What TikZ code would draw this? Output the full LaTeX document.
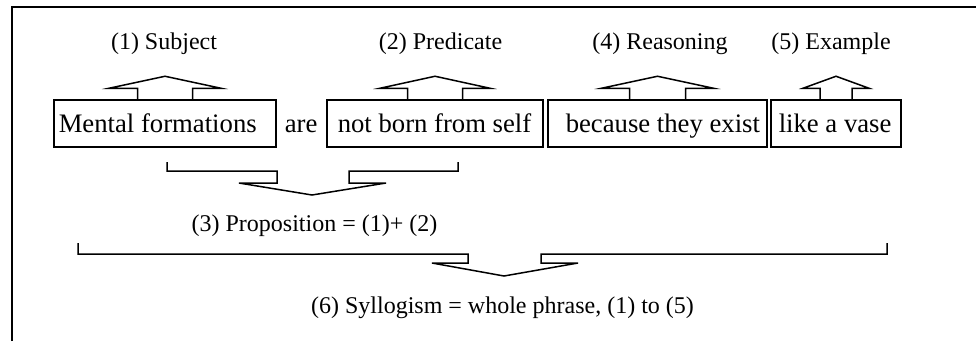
\documentclass[tikz,border=0pt]{standalone}
\usepackage{fontspec}
\setmainfont{Liberation Serif}
\begin{document}
\begin{tikzpicture}[x=1pt,y=-1pt,line width=1.5pt,line join=miter,
  box/.style={draw,line width=1.5pt,minimum height=47pt,inner sep=0pt},
  btext/.style={anchor=base west,inner sep=0pt,font=\fontsize{26.7}{30}\selectfont},
  lbl/.style={anchor=base,inner sep=0pt,font=\fontsize{24}{28}\selectfont},
  pics/uparrow/.style 2 args={code={
    \draw (-#1,0) -- (-#1,-11) -- (-#2,-11) -- (0,-23) -- (#2,-11) -- (#1,-11) -- (#1,0);}}]
\useasboundingbox (0,0) rectangle (976,341);
% frame
\draw[line width=1.7pt] (11.7,341) -- (11.7,7.3) -- (976,7.3);
% boxes
\node[box,minimum width=222pt] (b1) at (165,123.5) {};
\node[box,minimum width=216pt] (b2) at (435,123.5) {};
\node[box,minimum width=219pt] (b3) at (657.5,123.5) {};
\node[box,minimum width=130pt] (b4) at (836,123.5) {};
% box texts
\node[btext] (t1) at (58,132) {Mental formations};
\node[btext] (are) at (284,132) {are};
\node[btext] (t2) at (337,132) {not born from self};
\node[btext] (t3) at (565,132) {because they exist};
\node[btext] (t4) at (778,132) {like a vase};
% labels
\node[lbl] (l1) at (164,49) {(1) Subject};
\node[lbl] (l2) at (440.5,49) {(2) Predicate};
\node[lbl] (l4) at (660,49) {(4) Reasoning};
\node[lbl] (l5) at (831,49) {(5) Example};
\node[lbl] (l3) at (314.5,231) {(3) Proposition = (1)+ (2)};
\node[lbl] (l6) at (502.5,313) {(6) Syllogism = whole phrase, (1) to (5)};
% up arrows
\pic at (b1.north) {uparrow={27.5}{56}};
\pic at (b2.north) {uparrow={27.5}{55}};
\pic at (b3.north) {uparrow={28}{56}};
\pic at (b4.north) {uparrow={16}{33}};
% brace 1 -> (3)
\coordinate (p3) at (312,195);
\draw (167,162) -- (167,171) -- (277,171) -- (277,183) -- (239,183) -- (p3)
  -- (386,183) -- (349,183) -- (349,171) -- (458,171) -- (458,162);
% brace 2 -> (6)
\coordinate (p6) at (504,276);
\draw (78,243) -- (78,254) -- (468,254) -- (468,263) -- (432,263) -- (p6)
  -- (578,263) -- (541,263) -- (541,254) -- (887,254) -- (887,243);
\end{tikzpicture}
\end{document}
